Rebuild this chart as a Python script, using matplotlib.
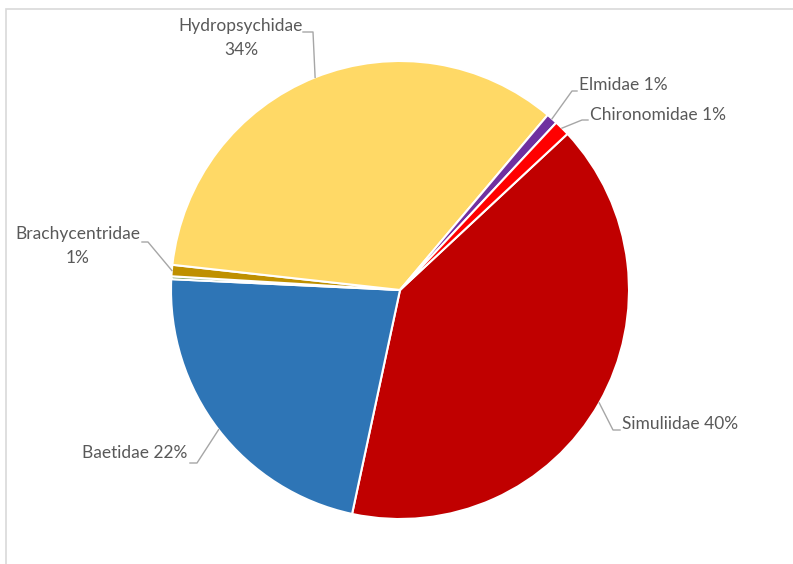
import matplotlib.pyplot as plt
import numpy as np

# ---- data ----
categories = ["Simuliidae", "Baetidae", "Other", "Brachycentridae",
              "Hydropsychidae", "Elmidae", "Chironomidae"]
shares = [40.3, 22.4, 0.2, 0.8, 34.4, 0.8, 1.1]
colors = ["#C00000", "#2E75B6", "#548235", "#BF9000",
          "#FFD966", "#7030A0", "#FF0000"]
labelled = [True, True, False, True, True, True, True]

# ---- layout (pixel coords, y measured from top) ----
W, H = 793, 564
CX, CY, R = 400, 290, 229
label_layout = {
    # name: (text x, text y, ha, two_lines, line start (x,y), elbow (x,y))
    "Simuliidae":      (622, 424, "left",   False, (620, 430), (613, 430)),
    "Baetidae":        (187, 453, "right",  False, (190, 463), (197, 463)),
    "Brachycentridae": (78, 246,  "center", True,  (142, 242), (148, 242)),
    "Hydropsychidae":  (241, 38,  "center", True,  (303, 32),  (313, 32)),
    "Elmidae":         (579, 85,  "left",   False, (577, 91),  (572, 91)),
    "Chironomidae":    (590, 115, "left",   False, (588, 120), (582, 120)),
}

plt.rcParams['font.family'] = ['Lato', 'DejaVu Sans']

fig = plt.figure(figsize=(W / 100, H / 100), dpi=100)
ax = fig.add_axes([0, 0, 1, 1])
wedges, _ = ax.pie(shares, colors=colors, startangle=43, counterclock=False,
                   center=(CX, H - CY), radius=R,
                   wedgeprops=dict(edgecolor="white", linewidth=1.5))
ax.set_xlim(0, W)
ax.set_ylim(0, H)
ax.set_aspect("equal")
ax.axis("off")

# chart-area border (top and left visible)
ax.plot([6, 6, W], [0, H - 9, H - 9], color="#d9d9d9", lw=1.2,
        solid_joinstyle="miter")

total = sum(shares)
for w, name, val, show in zip(wedges, categories, shares, labelled):
    if not show:
        continue
    tx, ty, ha, two, start, elbow = label_layout[name]
    pct = f"{round(val / total * 100):d}%"
    txt = f"{name}\n{pct}" if two else f"{name} {pct}"
    ax.text(tx, H - ty, txt, ha=ha, va="center", fontsize=12.5,
            color="#595959", linespacing=1.55, multialignment="center")
    mid = np.deg2rad((w.theta1 + w.theta2) / 2)
    ax_pt = (CX + R * np.cos(mid), (H - CY) + R * np.sin(mid))
    ax.plot([start[0], elbow[0], ax_pt[0]],
            [H - start[1], H - elbow[1], ax_pt[1]],
            color="#a6a6a6", lw=1.0)

fig.savefig("out.png", dpi=100)
